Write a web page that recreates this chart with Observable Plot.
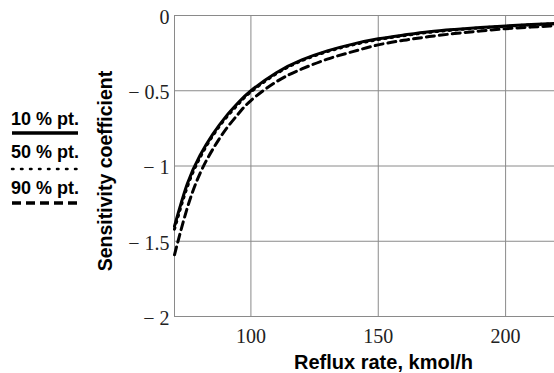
<!DOCTYPE html>
<html>
<head>
<meta charset="utf-8">
<script src="https://cdn.jsdelivr.net/npm/d3@7"></script>
<script src="https://cdn.jsdelivr.net/npm/@observablehq/plot@0.6"></script>
<style>
  html, body { margin: 0; padding: 0; background: #fff; overflow: hidden; }
  #wrap { position: relative; width: 554px; height: 373px; }
  #legend { position: absolute; left: 0; top: 0; }
</style>
</head>
<body>
<div id="wrap"><div id="chart"></div><svg id="legend" width="90" height="373"></svg></div>
<script>
// Reflux rate, kmol/h
const reflux = [70, 75, 80, 85, 90, 95, 100, 110, 120, 130, 140, 150, 160, 170, 180, 190, 200, 210, 220];
// Sensitivity coefficient series
const pt10 = [-1.40, -1.12, -0.93, -0.79, -0.675, -0.58, -0.50, -0.38, -0.295, -0.235, -0.19, -0.155, -0.13, -0.108, -0.093, -0.08, -0.069, -0.06, -0.053];
const pt50 = [-1.42, -1.14, -0.945, -0.80, -0.685, -0.59, -0.508, -0.387, -0.30, -0.24, -0.195, -0.16, -0.134, -0.112, -0.096, -0.083, -0.072, -0.062, -0.055];
const pt90 = [-1.59, -1.28, -1.05, -0.89, -0.76, -0.655, -0.565, -0.44, -0.355, -0.29, -0.24, -0.195, -0.165, -0.14, -0.12, -0.103, -0.088, -0.077, -0.068];
const seriesNames = ["10 % pt.", "50 % pt.", "90 % pt."];
const xTicks = [100, 150, 200];
const yTicks = [0, -0.5, -1, -1.5, -2];
const xLabel = "Reflux rate, kmol/h";
const yLabel = "Sensitivity coefficient";

const rows = (vals, name) => reflux.map((x, i) => ({x, y: vals[i], name}));
const d10 = rows(pt10, seriesNames[0]);
const d50 = rows(pt50, seriesNames[1]);
const d90 = rows(pt90, seriesNames[2]);

const fmt = v => v === 0 ? "0" : "\u2212 " + Math.abs(v);
const serif = "'Liberation Serif', 'Times New Roman', serif";
const sans = "'Liberation Sans', Arial, sans-serif";

const chart = Plot.plot({
  width: 554,
  height: 373,
  marginLeft: 174,
  marginRight: 0,
  marginTop: 15,
  marginBottom: 57,
  style: {fontFamily: serif, fontSize: "20px", color: "#222", background: "#fff"},
  x: {domain: [70, 219.2]},
  y: {domain: [-2, 0]},
  marks: [
    Plot.gridX(xTicks, {stroke: "#8a8a8a", strokeOpacity: 1, strokeWidth: 1}),
    Plot.gridY(yTicks.filter(v => v !== 0 && v !== -2), {stroke: "#8a8a8a", strokeOpacity: 1, strokeWidth: 1}),
    Plot.ruleY([0, -2], {stroke: "#8a8a8a", strokeWidth: 1}),
    Plot.ruleX([70], {stroke: "#8a8a8a", strokeWidth: 1}),
    Plot.axisY({ticks: yTicks, tickFormat: fmt, tickSize: 0, tickPadding: 5, label: null, fill: "#222", fontFamily: serif, fontSize: 20, dy: 2}),
    Plot.axisX({ticks: xTicks, tickSize: 0, tickPadding: 12, label: null, fill: "#222", fontFamily: serif, fontSize: 20}),
    Plot.line(d90, {x: "x", y: "y", stroke: "#000", strokeWidth: 3, strokeDasharray: "8,5", curve: "natural"}),
    Plot.line(d50, {x: "x", y: "y", stroke: "#000", strokeWidth: 3, strokeDasharray: "1.5,5", strokeLinecap: "round", curve: "natural"}),
    Plot.line(d10, {x: "x", y: "y", stroke: "#000", strokeWidth: 3, curve: "natural"}),
    Plot.text([xLabel], {frameAnchor: "bottom", dx: 19, dy: 52, fontFamily: sans, fontWeight: "bold", fontSize: 20, fill: "#000"}),
    Plot.text([yLabel], {frameAnchor: "left", textAnchor: "middle", rotate: -90, dx: -69, dy: 5, fontFamily: sans, fontWeight: "bold", fontSize: 19.5, fill: "#000"})
  ]
});
document.getElementById("chart").appendChild(chart);

// Legend
const leg = d3.select("#legend");
const legItems = [
  {name: seriesNames[0], ty: 125, ly: 133, dash: null},
  {name: seriesNames[1], ty: 158, ly: 169, dash: "1.5,7.5", cap: "round"},
  {name: seriesNames[2], ty: 194, ly: 203, dash: "9,5"}
];
legItems.forEach(it => {
  leg.append("text").attr("x", 11).attr("y", it.ty)
    .attr("font-family", sans)
    .attr("font-weight", "bold").attr("font-size", 18).attr("fill", "#000")
    .text(it.name);
  const l = leg.append("line").attr("x1", 12).attr("x2", 78).attr("y1", it.ly).attr("y2", it.ly)
    .attr("stroke", "#000").attr("stroke-width", it.dash && it.cap ? 2.5 : 3.5);
  if (it.dash) l.attr("stroke-dasharray", it.dash);
  if (it.cap) l.attr("stroke-linecap", it.cap);
});
</script>
</body>
</html>
